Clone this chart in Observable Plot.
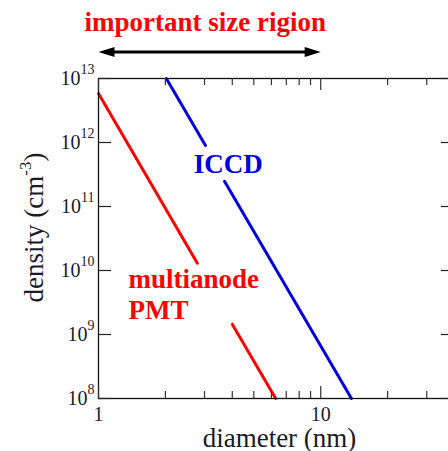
<!DOCTYPE html>
<html><head><meta charset="utf-8">
<script src="https://cdn.jsdelivr.net/npm/d3@7"></script>
<script src="https://cdn.jsdelivr.net/npm/@observablehq/plot@0.6"></script>
<style>
html,body{margin:0;padding:0;background:#fff;overflow:hidden;width:448px;height:451px}
#chart{width:456px;height:451px}
</style>
</head><body><div id="chart"></div>
<script>
// ---- data ----
const pmtDiameter = [1, 2.785, NaN, 4.0, 6.27];
const pmtDensity = [5.83e12, 1.30e10, NaN, 1.45e9, 1e8];
const iccdDiameter = [2.02, 3.03, NaN, 3.69, 13.75];
const iccdDensity = [1e13, 8.97e11, NaN, 2.48e11, 1e8];

const xMajorTicks = [1, 10];
const xMinorTicks = [2, 3, 4, 5, 6, 7, 8, 9, 20, 30];
const xTickLabels = ["1", "10"];
const yDecades = [8, 9, 10, 11, 12, 13];

const labelText = ["ICCD", "multianode", "PMT"];
const labelSeries = ["ICCD", "PMT", "PMT"];
const labelDiameter = [2.68, 1.365, 1.365];
const labelDensity = [3.3e11, 5.4e9, 1.76e9];

const arrowRange = [1, 10];
const arrowLevel = 2.6e13;

const titleText = "important size rigion";
const xTitle = "diameter (nm)";
const yTitleBase = "density (cm";
const yTitleExp = "-3";
const yTitleEnd = ")";

const RED = "#ff0000", BLUE = "#0000dd";

// ---- layout ----
const W = 456, H = 451, ML = 98, MR = 2, MT = 78, MB = 53;
const FW = W - ML - MR, FH = H - MT - MB;
const FONT = "'Liberation Serif', 'Times New Roman', serif";

const leftHead = {draw(ctx) { ctx.moveTo(0, 0); ctx.lineTo(16, -5); ctx.lineTo(16, 5); ctx.closePath(); }};
const rightHead = {draw(ctx) { ctx.moveTo(0, 0); ctx.lineTo(-16, -5); ctx.lineTo(-16, 5); ctx.closePath(); }};

const chart = Plot.plot({
  width: W, height: H,
  marginLeft: ML, marginRight: MR, marginTop: MT, marginBottom: MB,
  style: {fontFamily: FONT, background: "white", overflow: "visible", color: "#111"},
  x: {type: "log", domain: [1, 40], axis: null},
  y: {type: "log", domain: [1e8, 1e13], axis: null},
  marks: [
    Plot.line(pmtDiameter, {x: d => d, y: (d, i) => pmtDensity[i], stroke: RED, strokeWidth: 3}),
    Plot.line(iccdDiameter, {x: d => d, y: (d, i) => iccdDensity[i], stroke: BLUE, strokeWidth: 3}),
    Plot.frame({stroke: "#111", strokeWidth: 1.3}),
    Plot.tickX(xMajorTicks, {x: d => d, insetTop: FH - 12, stroke: "#333", strokeWidth: 1.2}),
    Plot.tickX(xMinorTicks, {x: d => d, insetTop: FH - 7, stroke: "#333", strokeWidth: 1.2}),
    Plot.tickX(xMajorTicks, {x: d => d, insetBottom: FH - 12, stroke: "#333", strokeWidth: 1.2}),
    Plot.tickX(xMinorTicks, {x: d => d, insetBottom: FH - 7, stroke: "#333", strokeWidth: 1.2}),
    Plot.tickY(yDecades, {y: e => 10 ** e, insetRight: FW - 13, stroke: "#222", strokeWidth: 1.2}),
    Plot.tickY(yDecades, {y: e => 10 ** e, insetLeft: FW - 13, stroke: "#222", strokeWidth: 1.2}),
    Plot.text(xMajorTicks, {x: d => d, text: (d, i) => xTickLabels[i], frameAnchor: "bottom", dy: 22,
      lineAnchor: "bottom", textAnchor: "middle", fontSize: 20, fill: "#1a1a2a"}),
    Plot.text(yDecades, {y: e => 10 ** e, text: e => "10^" + e, frameAnchor: "left", dx: -4, dy: 6,
      lineAnchor: "bottom", textAnchor: "end", fontSize: 20, fill: "#1a1a2a"}),
    Plot.text([xTitle], {text: d => d, frameAnchor: "bottom", dx: 3, dy: 48, lineAnchor: "bottom",
      textAnchor: "middle", fontSize: 27, fill: "#1a1a2a"}),
    Plot.text([yTitleBase + yTitleExp + yTitleEnd], {text: d => d, frameAnchor: "left", dx: -56, dy: -11, rotate: -90, lineAnchor: "bottom",
      textAnchor: "middle", fontSize: 27, fill: "#1a1a2a"}),
    Plot.text(labelText, {filter: (d, i) => labelSeries[i] === "ICCD", x: (d, i) => labelDiameter[i], y: (d, i) => labelDensity[i],
      text: d => d, textAnchor: "start", lineAnchor: "bottom", fontSize: 27, fontWeight: "bold", fill: BLUE}),
    Plot.text(labelText, {filter: (d, i) => labelSeries[i] === "PMT", x: (d, i) => labelDiameter[i], y: (d, i) => labelDensity[i],
      text: d => d, textAnchor: "start", lineAnchor: "bottom", fontSize: 27, fontWeight: "bold", fill: RED}),
    Plot.ruleY([arrowLevel], {x1: arrowRange[0], x2: arrowRange[1], stroke: "black", strokeWidth: 3, insetLeft: 6, insetRight: 6}),
    Plot.dot([arrowRange[0]], {x: d => d, y: () => arrowLevel, symbol: leftHead, fill: "black", stroke: "none"}),
    Plot.dot([arrowRange[1]], {x: d => d, y: () => arrowLevel, symbol: rightHead, fill: "black", stroke: "none"}),
    Plot.text([titleText], {text: d => d, frameAnchor: "top-left", dx: -14, dy: -48, textAnchor: "start",
      lineAnchor: "bottom", fontSize: 27, fontWeight: "bold", fill: RED})
  ]
});
document.getElementById("chart").appendChild(chart);

// superscripts as real text with tspans
const NS = "http://www.w3.org/2000/svg";
const fullYTitle = yTitleBase + yTitleExp + yTitleEnd;
chart.querySelectorAll("text").forEach(t => {
  const s = t.textContent;
  const m = /^10\^(\d+)$/.exec(s);
  if (m) {
    t.textContent = "10";
    const sup = document.createElementNS(NS, "tspan");
    sup.setAttribute("dy", "-11");
    sup.setAttribute("font-size", "14");
    sup.textContent = m[1];
    t.appendChild(sup);
  } else if (s === fullYTitle) {
    t.textContent = yTitleBase;
    const sup = document.createElementNS(NS, "tspan");
    sup.setAttribute("dy", "-12");
    sup.setAttribute("font-size", "17");
    sup.textContent = yTitleExp;
    const end = document.createElementNS(NS, "tspan");
    end.setAttribute("dy", "12");
    end.setAttribute("font-size", "27");
    end.textContent = yTitleEnd;
    t.appendChild(sup);
    t.appendChild(end);
  }
});
</script>
</body></html>
